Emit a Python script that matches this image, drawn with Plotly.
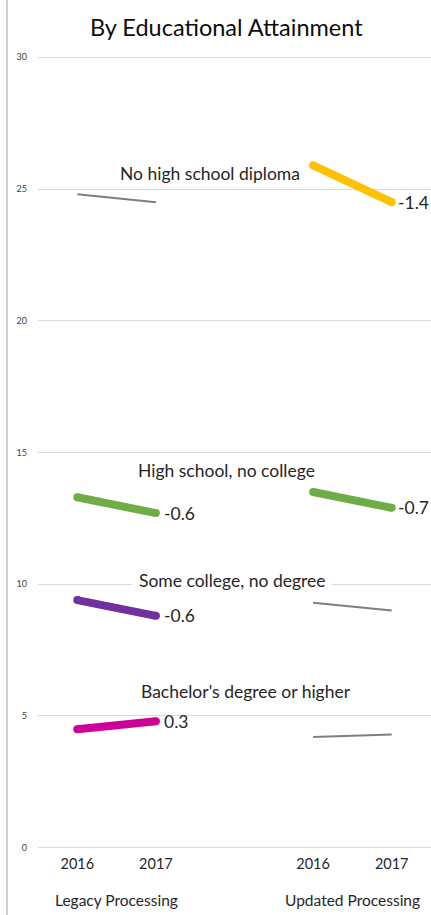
import plotly.graph_objects as go

# ---- data ----
categories = ["No high school diploma", "High school, no college",
              "Some college, no degree", "Bachelor's degree or higher"]
years = ["2016", "2017"]
groups = ["Legacy Processing", "Updated Processing"]
legacy_2016 = [24.8, 13.3, 9.4, 4.5]
legacy_2017 = [24.5, 12.7, 8.8, 4.8]
updated_2016 = [25.9, 13.5, 9.3, 4.2]
updated_2017 = [24.5, 12.9, 9.0, 4.3]
legacy_change = [None, "-0.6", "-0.6", "0.3"]
updated_change = ["-1.4", "-0.7", None, None]
y_ticks = [0, 5, 10, 15, 20, 25, 30]

# ---- styling ----
colors = ["#FFC000", "#70AD47", "#7030A0", "#CC0099"]
gray = "#7F7F7F"
FONT = "Lato"
legacy_x = [0, 1]
updated_x = [3, 4]
# label positions (data coords) for category names
label_pos = [(1.69, 25.6), (1.9, 14.33), (1.97, 10.16), (2.14, 5.92)]

fig = go.Figure()

def add_series(xs, ys, highlighted, color):
    if highlighted:
        fig.add_trace(go.Scatter(x=xs, y=ys, mode="lines+markers",
                                 line=dict(color=color, width=8),
                                 marker=dict(color=color, size=8),
                                 hoverinfo="skip", showlegend=False))
    else:
        fig.add_trace(go.Scatter(x=xs, y=ys, mode="lines",
                                 line=dict(color=gray, width=2),
                                 hoverinfo="skip", showlegend=False))

for i, cat in enumerate(categories):
    add_series(legacy_x, [legacy_2016[i], legacy_2017[i]], legacy_change[i] is not None, colors[i])
    add_series(updated_x, [updated_2016[i], updated_2017[i]], updated_change[i] is not None, colors[i])
    if legacy_change[i] is not None:
        fig.add_annotation(x=legacy_x[1], y=legacy_2017[i], text=legacy_change[i],
                           showarrow=False, xanchor="left", xshift=6,
                           font=dict(family=FONT, size=17.5, color="#262626"))
    if updated_change[i] is not None:
        fig.add_annotation(x=updated_x[1], y=updated_2017[i], text=updated_change[i],
                           showarrow=False, xanchor="left", xshift=4,
                           font=dict(family=FONT, size=17.5, color="#262626"))
    lx, ly = label_pos[i]
    fig.add_annotation(x=lx, y=ly, text=cat, showarrow=False,
                       bgcolor="white" if i == 2 else None,
                       borderpad=6 if i == 2 else 1,
                       font=dict(family=FONT, size=17.5, color="#262626"))

# group labels
for gx, g in zip([0.5, 3.5], groups):
    fig.add_annotation(x=gx, y=0, yref="paper", yshift=-47, text=g, showarrow=False,
                       yanchor="middle",
                       font=dict(family=FONT, size=15.5, color="#262626"))

W, H = 431, 915
ml, mr, mt, mb = 38, 0, 52, 62
ph = H - mt - mb
# left border line
fig.add_shape(type="line", xref="paper", yref="paper",
              x0=(7 - ml) / (W - ml - mr), x1=(7 - ml) / (W - ml - mr),
              y0=-mb / ph, y1=(ph + mt) / ph,
              line=dict(color="#BFBFBF", width=1.5))

fig.update_layout(
    width=W, height=H,
    margin=dict(l=ml, r=mr, t=mt, b=mb),
    paper_bgcolor="white", plot_bgcolor="white",
    title=dict(text="By Educational Attainment", x=0.525, xanchor="center",
               y=1 - 28 / H, yanchor="middle",
               font=dict(family=FONT, size=23.5, color="#0D0D0D")),
    xaxis=dict(range=[-0.5, 4.5], tickvals=legacy_x + updated_x,
               ticktext=years + years, showgrid=False, zeroline=False,
               showline=False, ticks="",
               tickfont=dict(family=FONT, size=14.5, color="#262626")),
    yaxis=dict(range=[-0.2, 30.2], tickvals=y_ticks, showgrid=True,
               gridcolor="#D9D9D9", gridwidth=1, zeroline=False,
               showline=False, ticks="", ticklabelstandoff=10,
               tickfont=dict(family=FONT, size=9, color="#404040")),
)

fig.write_html("out.html")
